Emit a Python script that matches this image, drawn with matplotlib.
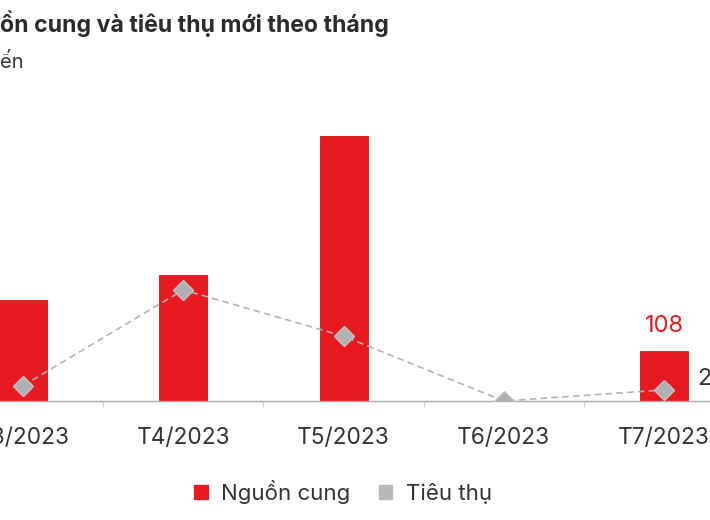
import numpy as np
import matplotlib
matplotlib.use('Agg')
from matplotlib import pyplot as plt
from matplotlib.patches import Patch

plt.rcParams['font.family'] = ['Inter', 'DejaVu Sans']

# Data
months = ['T3/2023', 'T4/2023', 'T5/2023', 'T6/2023', 'T7/2023']
supply = [218, 273, 572, 0, 108]      # Nguồn cung
absorbed = [33, 240, 140, 0, 24]      # Tiêu thụ

red = '#e8191f'
grey = '#b3b3b5'
dark = '#333333'

fig = plt.figure(figsize=(7.1, 5.2), dpi=100)
# axes spans the whole width, baseline at y=401px from top
ax = fig.add_axes([0, 119 / 520, 1, 301 / 520])

x = np.arange(len(months))
ax.bar(x, supply, width=0.30, color=red, edgecolor='#d01418', linewidth=0.6, zorder=2)
ax.plot(x, absorbed, color=grey, ls=(0, (4, 2.5)), lw=1.2, marker='D', markersize=10,
        markerfacecolor='#b0b0b2', markeredgecolor='#c4c4c6', zorder=3)

# labels only shown for the last month
ax.text(x[-1], supply[-1] + 55, str(supply[-1]), color=red, fontsize=17,
        ha='center', va='center')
ax.text(x[-1] + 0.205, absorbed[-1] + 24, str(absorbed[-1]), color=dark, fontsize=17,
        ha='left', va='center')

ax.set_xlim(-0.1435, 4.286)
ax.set_ylim(0, 650)
ax.set_xticks(x)
ax.set_xticklabels(months, fontsize=16.3, color=dark)
ax.set_xticks(x[:-1] + 0.5, minor=True)
ax.tick_params(axis='x', which='major', length=0, pad=19)
ax.tick_params(axis='x', which='minor', length=4, color='#c8c8c8', width=0.6)
ax.set_yticks([])
for s in ['top', 'right', 'left']:
    ax.spines[s].set_visible(False)
ax.spines['bottom'].set_color('#aaaaaa')
ax.spines['bottom'].set_linewidth(1.0)

fig.text(0, 1 - 24 / 520, 'ồn cung và tiêu thụ mới theo tháng', fontsize=16.6,
         fontweight='bold', color='#2b2b2b', ha='left', va='center')
fig.text(0, 1 - 62 / 520, 'ến', fontsize=14.5, color=dark, ha='left', va='center')

handles = [Patch(facecolor=red, edgecolor=red),
           Patch(facecolor='#b8b8b8', edgecolor='#b8b8b8')]
fig.legend(handles, ['Nguồn cung', 'Tiêu thụ'], loc='center', bbox_to_anchor=(343 / 710, 1 - 492 / 520),
           ncol=2, frameon=False, fontsize=16, handlelength=0.6, handleheight=0.6,
           handletextpad=0.6, columnspacing=1.3, labelcolor=dark)

fig.savefig('out.png', dpi=100)
